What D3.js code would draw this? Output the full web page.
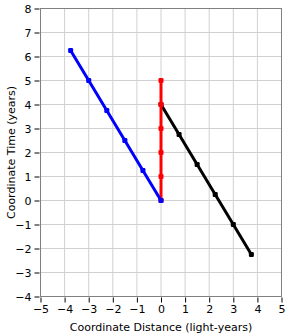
<!DOCTYPE html>
<html>
<head>
<meta charset="utf-8">
<script src="https://cdn.jsdelivr.net/npm/d3@7"></script>
<style>
  body { margin: 0; background: #fff; }
  text { font-family: "DejaVu Sans", Verdana, sans-serif; font-size: 11px; fill: #000; }
</style>
</head>
<body>
<svg id="chart" width="291" height="335"></svg>
<script>
// Data
const xTicks = [-5, -4, -3, -2, -1, 0, 1, 2, 3, 4, 5];
const yTicks = [-4, -3, -2, -1, 0, 1, 2, 3, 4, 5, 6, 7, 8];

const blueX = [-3.75, -3, -2.25, -1.5, -0.75, 0];
const blueY = [6.25, 5, 3.75, 2.5, 1.25, 0];

const redX = [0, 0, 0, 0, 0, 0];
const redY = [0, 1, 2, 3, 4, 5];

const blackX = [0, 0.75, 1.5, 2.25, 3, 3.75];
const blackY = [4, 2.75, 1.5, 0.25, -1, -2.25];

// drawn back to front
const series = [
    { name: 'black', color: '#000000', xs: blackX, ys: blackY },
    { name: 'red', color: '#ff0000', xs: redX, ys: redY },
    { name: 'blue', color: '#0000ff', xs: blueX, ys: blueY }
];

const margin = { left: 40.5, right: 9.5, top: 8.5, bottom: 38.5 };
const width = 291, height = 335;

const svg = d3.select('#chart');

const xScale = d3.scaleLinear()
    .domain([-5, 5])
    .range([margin.left, width - margin.right]);

const yScale = d3.scaleLinear()
    .domain([-4, 8])
    .range([height - margin.bottom, margin.top]);

// Grid
const grid = svg.append('g');
grid.selectAll('.vgrid')
    .data(xTicks)
    .join('line')
    .attr('x1', d => xScale(d)).attr('x2', d => xScale(d))
    .attr('y1', yScale(-4)).attr('y2', yScale(8))
    .attr('stroke', '#d0d0d0');
grid.selectAll('.hgrid')
    .data(yTicks)
    .join('line')
    .attr('y1', d => yScale(d)).attr('y2', d => yScale(d))
    .attr('x1', xScale(-5)).attr('x2', xScale(5))
    .attr('stroke', '#d0d0d0');

// Frame
svg.append('rect')
    .attr('x', xScale(-5)).attr('y', yScale(8))
    .attr('width', xScale(5) - xScale(-5))
    .attr('height', yScale(-4) - yScale(8))
    .attr('fill', 'none')
    .attr('stroke', '#808080');

// Axes
const xAxis = d3.axisBottom(xScale).tickValues(xTicks).tickSize(5).tickPadding(3);
const yAxis = d3.axisLeft(yScale).tickValues(yTicks).tickSize(5).tickPadding(3);

const gx = svg.append('g')
    .attr('transform', `translate(0,${yScale(-4) + 1})`)
    .call(xAxis);
const gy = svg.append('g')
    .attr('transform', `translate(${xScale(-5) - 1},0)`)
    .call(yAxis);

[gx, gy].forEach(g => {
    g.select('.domain').remove();
    g.selectAll('.tick line').attr('stroke', '#000');
    g.selectAll('.tick text')
        .style('font-family', '"DejaVu Sans", Verdana, sans-serif')
        .style('font-size', '11px')
        .attr('fill', '#000');
});

// Series
const line = d3.line()
    .x(d => xScale(d[0]))
    .y(d => yScale(d[1]));

series.forEach(s => {
    const pts = s.xs.map((x, i) => [x, s.ys[i]]);
    svg.append('path')
        .datum(pts)
        .attr('d', line)
        .attr('fill', 'none')
        .attr('stroke', s.color)
        .attr('stroke-width', 3);
    svg.selectAll(`.pt-${s.name}`)
        .data(pts)
        .join('rect')
        .attr('class', `pt-${s.name}`)
        .attr('x', d => xScale(d[0]) - 2.5)
        .attr('y', d => yScale(d[1]) - 2.5)
        .attr('width', 5)
        .attr('height', 5)
        .attr('rx', 1.2)
        .attr('fill', s.color);
});

// Axis titles
svg.append('text')
    .attr('x', (xScale(-5) + xScale(5)) / 2)
    .attr('y', 331)
    .attr('text-anchor', 'middle')
    .text('Coordinate Distance (light-years)');

svg.append('text')
    .attr('transform', `translate(15,${(yScale(-4) + yScale(8)) / 2}) rotate(-90)`)
    .attr('text-anchor', 'middle')
    .text('Coordinate Time (years)');
</script>
</body>
</html>
